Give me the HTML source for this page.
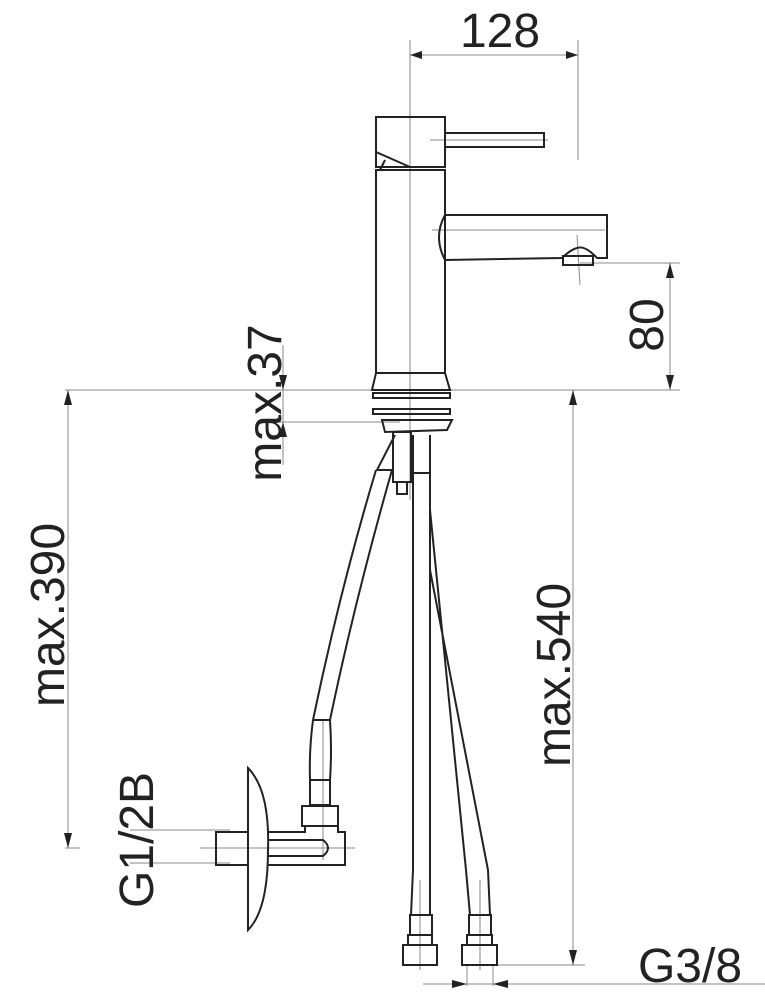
<!DOCTYPE html>
<html><head><style>body{margin:0;background:#fff}svg{display:block}text{font-family:"Liberation Sans",sans-serif;fill:#222}</style></head><body>
<svg width="765" height="1000" viewBox="0 0 765 1000" xmlns="http://www.w3.org/2000/svg">
<g stroke="#888" stroke-width="1" fill="none">
<line x1="410" y1="40" x2="410" y2="500"/>
<line x1="578" y1="40" x2="578" y2="160"/>
<line x1="410" y1="55" x2="578" y2="55"/>
<line x1="65" y1="390" x2="680" y2="390"/>
<line x1="580" y1="263" x2="680" y2="263"/>
<line x1="670" y1="263" x2="670" y2="390"/>
<line x1="283" y1="345" x2="283" y2="465"/>
<line x1="275" y1="422" x2="400" y2="422"/>
<line x1="68" y1="390" x2="68" y2="848"/>
<line x1="65" y1="848" x2="80" y2="848"/>
<line x1="573" y1="390" x2="573" y2="965"/>
<line x1="490" y1="965" x2="585" y2="965"/>
<line x1="130" y1="830" x2="230" y2="830"/>
<line x1="130" y1="863" x2="230" y2="863"/>
<line x1="200" y1="848" x2="355" y2="848"/>
<line x1="423" y1="984" x2="765" y2="984"/>
<line x1="467" y1="965" x2="467" y2="986"/>
<line x1="493" y1="965" x2="493" y2="986"/>
<line x1="432" y1="230" x2="605" y2="230"/>
<line x1="430" y1="140" x2="548" y2="140"/>
<line x1="577" y1="235" x2="580" y2="285"/>
<line x1="323" y1="720" x2="323" y2="860"/>
<line x1="420" y1="880" x2="420" y2="970"/>
<line x1="480" y1="880" x2="480" y2="970"/>
</g>
<g fill="#222">
<polygon points="410,55 422,51 422,59"/><polygon points="578,55 566,51 566,59"/>
<polygon points="670,263 666,278 674,278"/><polygon points="670,390 666,375 674,375"/>
<polygon points="283,390 279,375 287,375"/><polygon points="283,422 279,437 287,437"/>
<polygon points="68,390 64,405 72,405"/><polygon points="68,848 64,833 72,833"/>
<polygon points="573,390 569,405 577,405"/><polygon points="573,965 569,950 577,950"/>
<polygon points="467,984 452,980 452,988"/><polygon points="493,984 508,980 508,988"/>
</g>
<g stroke="#222" stroke-width="2" fill="none">
<rect x="376" y="117" width="69" height="50"/>
<path d="M376,152 L410,167 M385,160 L380,170"/>
<rect x="445" y="133" width="99" height="14"/>
<rect x="376" y="170" width="69" height="203"/>
<path d="M445,215 L607,215 L607,258 L597,258 Q585,245 577,248 Q570,250 562,258 L445,260 Q433,237 445,215"/>
<rect x="563" y="256" width="30" height="9"/>
<path d="M376,373 L445,373 L450,390 L372,390 Z"/>
<rect x="373" y="393" width="77" height="5"/>
<rect x="373" y="409" width="77" height="5"/>
<path d="M382,420 L452,420 L447,430 L385,432 Z"/>
<rect x="393" y="432" width="18" height="50"/>
<rect x="397" y="482" width="10" height="12"/>
<path d="M395,435 L377,470 L392,470 M376,470 Q340,590 313,720 M392,470 Q355,600 330,720"/>
<path d="M413,435 L413,870 M430,435 L430,870"/>
<path d="M430,510 L466,870 M430,570 L488,870 M413,473 L430,473"/>
<path d="M313,720 Q309,750 310,780 L330,780 Q332,750 330,720 M313,720 L330,720"/>
<rect x="310" y="780" width="20" height="25"/><rect x="302" y="806" width="36" height="20"/>
<path d="M268,832 L305,832 L305,826 L338,826 L338,832 L345,832 L345,865 L268,865"/>
<path d="M268,840 L323,840 Q333,848 323,856 L268,856"/>
<rect x="216" y="832" width="32" height="33"/>
<path d="M248,768 Q270,790 268,850 Q268,910 248,930 Z"/>
<path d="M413,870 L411,915 L430,915 L430,870 M466,870 L470,915 L490,915 L488,870"/>
<rect x="410" y="915" width="22" height="20"/><rect x="403" y="945" width="34" height="20"/><rect x="408" y="935" width="24" height="10"/>
<rect x="469" y="915" width="22" height="20"/><rect x="462" y="945" width="35" height="20"/><rect x="467" y="935" width="25" height="10"/>
</g>
<text x="500" y="47" font-size="48" text-anchor="middle">128</text>
<text transform="translate(663,325) rotate(-90)" font-size="48" text-anchor="middle">80</text>
<text transform="translate(281,403) rotate(-90)" font-size="48" text-anchor="middle">max.37</text>
<text transform="translate(64,615) rotate(-90)" font-size="48" text-anchor="middle">max.390</text>
<text transform="translate(570,675) rotate(-90)" font-size="48" text-anchor="middle">max.540</text>
<text transform="translate(153,840) rotate(-90)" font-size="48" text-anchor="middle">G1/2B</text>
<text x="690" y="982" font-size="48" text-anchor="middle">G3/8</text>
</svg>
</body></html>
